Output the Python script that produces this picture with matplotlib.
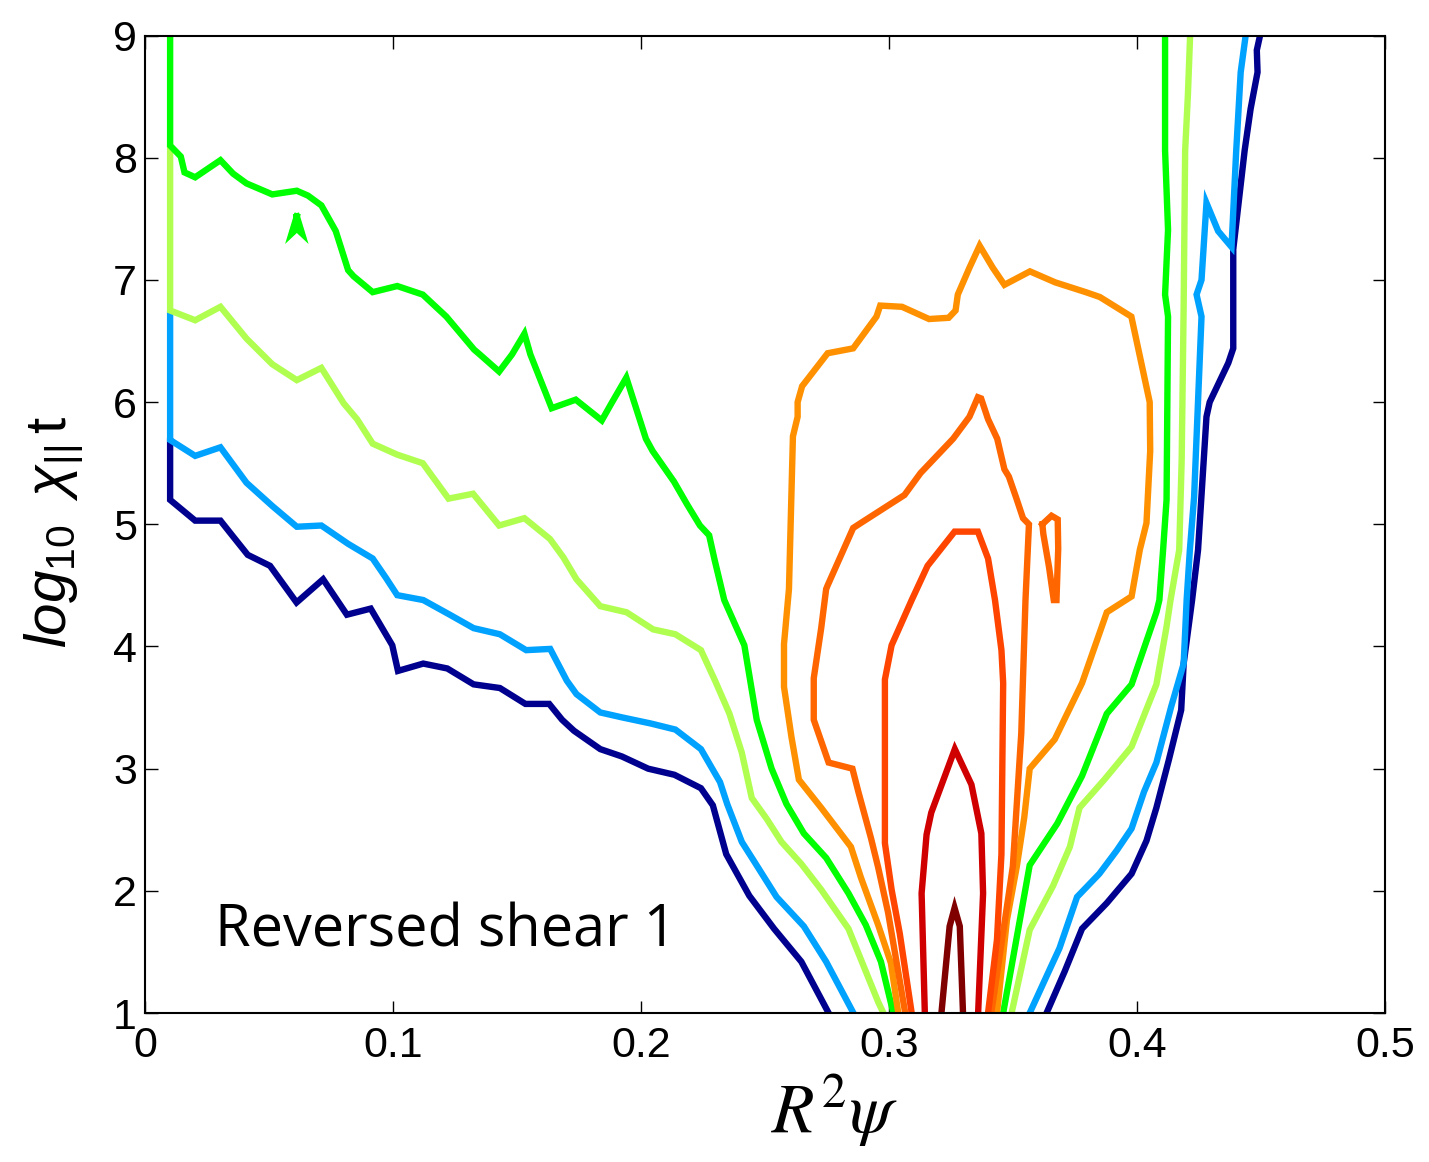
import matplotlib
matplotlib.use('Agg')
import matplotlib.pyplot as plt

# contour levels (outer -> inner) and their colours
level_colors = {
    'navy': '#00008f',
    'lightblue': '#00a2ff',
    'yellowgreen': '#b0ff50',
    'green': '#00ff00',
    'orange': '#ff9100',
    'darkorange': '#ff6600',
    'orangered': '#ff4500',
    'red': '#d00000',
    'darkred': '#800000',
}

# contour paths: (R^2 psi, log10 chi t)
navy_left_x = [0.01, 0.01, 0.0201, 0.0303, 0.035, 0.0413, 0.0503, 0.061, 0.0717, 0.0813, 0.0909,
               0.0996, 0.1019, 0.1121, 0.1218, 0.1324, 0.143, 0.1533, 0.1629, 0.1681, 0.1729,
               0.1835, 0.1922, 0.2028, 0.2134, 0.2241, 0.2289, 0.2343, 0.2436, 0.2536, 0.2646, 0.2756]
navy_left_y = [5.68, 5.20, 5.03, 5.03, 4.91, 4.75, 4.66, 4.36, 4.55, 4.26, 4.31,
               4.01, 3.80, 3.86, 3.82, 3.69, 3.66, 3.53, 3.53, 3.40, 3.31,
               3.16, 3.10, 3.00, 2.95, 2.84, 2.70, 2.30, 1.96, 1.69, 1.42, 1.0]
navy_right_x = [0.3635, 0.3708, 0.3778, 0.3878, 0.3978, 0.4038, 0.4078, 0.4128, 0.4178, 0.4188,
                0.4222, 0.4246, 0.428, 0.4293, 0.4368, 0.4388, 0.4388, 0.4434, 0.4458, 0.4486,
                0.4483, 0.4496]
navy_right_y = [1.0, 1.34, 1.69, 1.90, 2.14, 2.41, 2.68, 3.07, 3.48, 3.86,
                4.38, 4.79, 5.88, 6.00, 6.32, 6.44, 7.25, 8.06, 8.40, 8.70,
                8.88, 9.0]

lightblue_left_x = [0.01, 0.01, 0.0201, 0.0303, 0.0408, 0.0512, 0.0611, 0.071, 0.0818, 0.0917, 0.0971,
                    0.1016, 0.1121, 0.1228, 0.1324, 0.143, 0.1536, 0.1633, 0.17, 0.1739, 0.1835,
                    0.1922, 0.2038, 0.2138, 0.2241, 0.2318, 0.2347, 0.2406, 0.2456, 0.2546, 0.2656,
                    0.2746, 0.2856]
lightblue_left_y = [6.72, 5.69, 5.56, 5.63, 5.34, 5.15, 4.98, 4.99, 4.84, 4.72, 4.56,
                    4.42, 4.38, 4.26, 4.15, 4.10, 3.97, 3.98, 3.72, 3.61, 3.46,
                    3.42, 3.37, 3.32, 3.16, 2.89, 2.71, 2.40, 2.24, 1.95, 1.71,
                    1.42, 1.0]
lightblue_right_x = [0.3567, 0.3637, 0.3687, 0.3758, 0.3848, 0.3918, 0.3978, 0.4028, 0.4078, 0.4138,
                     0.4188, 0.4200, 0.4213, 0.4230, 0.426, 0.424, 0.426, 0.428, 0.4327, 0.4381,
                     0.44, 0.4418, 0.4438]
lightblue_right_y = [1.0, 1.31, 1.53, 1.95, 2.14, 2.33, 2.51, 2.81, 3.05, 3.51,
                     3.86, 4.38, 4.79, 5.22, 6.70, 6.88, 7.00, 7.63, 7.40, 7.27,
                     8.06, 8.7, 9.0]

yellowgreen_left_x = [0.01, 0.01, 0.0201, 0.0303, 0.0408, 0.0512, 0.0611, 0.071, 0.08, 0.0854, 0.0917,
                      0.1016, 0.1119, 0.1223, 0.1322, 0.1427, 0.1529, 0.1632, 0.1686, 0.1739, 0.1835,
                      0.1941, 0.2048, 0.2138, 0.2241, 0.2298, 0.2356, 0.2406, 0.2446, 0.2506, 0.2566,
                      0.2646, 0.2726, 0.2836, 0.2956, 0.2977]
yellowgreen_left_y = [8.08, 6.75, 6.67, 6.78, 6.52, 6.31, 6.18, 6.28, 5.99, 5.86, 5.66,
                      5.57, 5.50, 5.21, 5.25, 4.99, 5.05, 4.88, 4.73, 4.55, 4.33,
                      4.28, 4.14, 4.10, 3.97, 3.72, 3.45, 3.13, 2.76, 2.59, 2.40,
                      2.22, 2.01, 1.69, 1.09, 1.0]
yellowgreen_right_x = [0.3494, 0.3567, 0.3661, 0.3729, 0.3768, 0.3868, 0.3978, 0.4078, 0.4118, 0.4135,
                       0.4170, 0.4180, 0.4188, 0.4194, 0.4205, 0.4214]
yellowgreen_right_y = [1.0, 1.68, 2.04, 2.36, 2.68, 2.91, 3.18, 3.69, 4.15, 4.38,
                       4.79, 5.53, 6.79, 8.06, 8.51, 9.0]

green_left_x = [0.01, 0.01, 0.0143, 0.0158, 0.0201, 0.0303, 0.0354, 0.0408, 0.0512, 0.0611, 0.0656,
                0.071, 0.0768, 0.0818, 0.084, 0.0917, 0.1016, 0.1119, 0.1214, 0.1326, 0.1349,
                0.1427, 0.1479, 0.1529, 0.1553, 0.1639, 0.1736, 0.1841, 0.188, 0.194, 0.2019,
                0.2046, 0.2132, 0.2186, 0.2237, 0.2274, 0.2296, 0.2335, 0.2416, 0.2466, 0.2526,
                0.2586, 0.2656, 0.2746, 0.2836, 0.2906, 0.2967, 0.3017]
green_left_y = [9.0, 8.10, 8.01, 7.88, 7.84, 7.98, 7.87, 7.79, 7.70, 7.73, 7.69,
                7.61, 7.40, 7.08, 7.03, 6.90, 6.95, 6.88, 6.70, 6.43, 6.39,
                6.25, 6.39, 6.56, 6.39, 5.95, 6.02, 5.85, 5.99, 6.20, 5.70,
                5.60, 5.35, 5.16, 4.99, 4.91, 4.71, 4.38, 4.01, 3.40, 3.00,
                2.71, 2.47, 2.27, 1.98, 1.72, 1.42, 1.0]
green_right_x = [0.346, 0.3567, 0.3678, 0.3778, 0.3878, 0.3978, 0.4078, 0.4090, 0.4105, 0.4119,
                 0.4125, 0.4113, 0.4125, 0.4113, 0.4113]
green_right_y = [1.0, 2.21, 2.55, 2.94, 3.45, 3.69, 4.28, 4.38, 4.79, 5.20,
                 6.70, 6.88, 7.41, 8.06, 9.0]
green_island_x = [0.0611, 0.0632, 0.0611, 0.059, 0.0611]
green_island_y = [7.52, 7.38, 7.42, 7.38, 7.52]

orange_x = [0.3037, 0.3007, 0.2956, 0.2886, 0.2846, 0.2726, 0.2636, 0.2606, 0.2576, 0.2576, 0.2596,
            0.2612, 0.2631, 0.2631, 0.2649, 0.2752, 0.2855, 0.2949, 0.2964, 0.3052, 0.3161,
            0.324, 0.3268, 0.3277, 0.3324, 0.3365, 0.3418, 0.3465, 0.3568, 0.367, 0.3793,
            0.3850, 0.3977, 0.4051, 0.4053, 0.4038, 0.4011, 0.3978,
            0.3878, 0.3778, 0.3668, 0.3567, 0.3545, 0.3515, 0.3475, 0.3435]
orange_y = [1.0, 1.41, 1.72, 2.11, 2.36, 2.68, 2.91, 3.26, 3.67, 4.02, 4.47,
            5.72, 5.88, 6.00, 6.13, 6.40, 6.44, 6.70, 6.79, 6.78, 6.68,
            6.69, 6.75, 6.88, 7.10, 7.28, 7.10, 6.96, 7.07, 6.98, 6.90,
            6.86, 6.70, 6.00, 5.60, 5.01, 4.79, 4.41,
            4.28, 3.70, 3.24, 3.00, 2.60, 2.20, 1.76, 1.0]

darkorange_x = [0.3065, 0.2996, 0.2956, 0.2927, 0.2876, 0.2852, 0.2756, 0.2696, 0.2696, 0.2726, 0.2746,
                0.2752, 0.2855, 0.2893, 0.3062, 0.3127, 0.3258, 0.3324, 0.3358, 0.3371, 0.3399,
                0.3436, 0.3465, 0.3483, 0.3512, 0.354, 0.3564, 0.355, 0.3533, 0.3499, 0.3412]
darkorange_y = [1.0, 1.82, 2.19, 2.43, 2.81, 3.00, 3.05, 3.40, 3.74, 4.15, 4.47,
                4.50, 4.97, 5.02, 5.24, 5.42, 5.70, 5.88, 6.04, 6.03, 5.86,
                5.70, 5.45, 5.39, 5.22, 5.05, 5.00, 4.38, 3.29, 2.20, 1.0]
darkorange_island_x = [0.3618, 0.3655, 0.368, 0.3682, 0.3675, 0.3664, 0.3645, 0.3622, 0.3618]
darkorange_island_y = [5.00, 5.07, 5.04, 4.80, 4.38, 4.38, 4.65, 4.92, 5.00]

orangered_x = [0.3091, 0.3043, 0.301, 0.2983, 0.2983, 0.301, 0.3091, 0.3155, 0.3264, 0.3358, 0.3399,
               0.3427, 0.3453, 0.346, 0.3453, 0.3435, 0.3399]
orangered_y = [1.0, 1.65, 2.01, 2.39, 3.73, 4.01, 4.38, 4.66, 4.94, 4.94, 4.72,
               4.38, 3.97, 3.70, 2.30, 1.60, 1.0]

red_x = [0.3144, 0.3131, 0.3151, 0.317, 0.3265, 0.3332, 0.3372, 0.3379, 0.3359]
red_y = [1.0, 1.98, 2.46, 2.64, 3.16, 2.87, 2.47, 1.98, 1.0]

darkred_x = [0.3211, 0.3244, 0.3264, 0.3285, 0.3298]
darkred_y = [1.0, 1.71, 1.86, 1.71, 1.0]

paths = [
    (navy_left_x, navy_left_y, 'navy'),
    (navy_right_x, navy_right_y, 'navy'),
    (lightblue_left_x, lightblue_left_y, 'lightblue'),
    (lightblue_right_x, lightblue_right_y, 'lightblue'),
    (yellowgreen_left_x, yellowgreen_left_y, 'yellowgreen'),
    (yellowgreen_right_x, yellowgreen_right_y, 'yellowgreen'),
    (green_left_x, green_left_y, 'green'),
    (green_right_x, green_right_y, 'green'),
    (green_island_x, green_island_y, 'green'),
    (orange_x, orange_y, 'orange'),
    (darkorange_x, darkorange_y, 'darkorange'),
    (darkorange_island_x, darkorange_island_y, 'darkorange'),
    (orangered_x, orangered_y, 'orangered'),
    (red_x, red_y, 'red'),
    (darkred_x, darkred_y, 'darkred'),
]

x_ticks = [0, 0.1, 0.2, 0.3, 0.4, 0.5]
x_ticklabels = ['0', '0.1', '0.2', '0.3', '0.4', '0.5']
y_ticks = [1, 2, 3, 4, 5, 6, 7, 8, 9]

plt.rcParams['mathtext.fontset'] = 'custom'
plt.rcParams['mathtext.rm'] = 'Liberation Sans'
plt.rcParams['mathtext.it'] = 'Liberation Sans:italic'
plt.rcParams['mathtext.bf'] = 'Liberation Sans:bold'

fig = plt.figure(figsize=(14.29, 11.62), dpi=100)
ax = fig.add_axes([0.1017, 0.1282, 0.8675, 0.8412])

for xs, ys, name in paths:
    ax.plot(xs, ys, color=level_colors[name], lw=4.6, solid_joinstyle='miter')

ax.set_xlim(0, 0.5)
ax.set_ylim(1, 9)
ax.set_xticks(x_ticks)
ax.set_xticklabels(x_ticklabels)
ax.set_yticks(y_ticks)
ax.tick_params(direction='in', length=9, width=1.0, top=True, right=True,
               labelsize=31)
ax.tick_params(axis='x', pad=9)
ax.tick_params(axis='y', pad=6)
for lab in ax.get_xticklabels() + ax.get_yticklabels():
    lab.set_fontfamily('Liberation Sans')
for sp in ax.spines.values():
    sp.set_linewidth(1.5)

ax.text(0.556, -0.123, r'$R^2\psi$', transform=ax.transAxes, ha='center', va='baseline',
        fontsize=50, math_fontfamily='stix')
ax.text(-0.074, 0.492, r'$\mathit{log}_{10}\;\;\chi_{||}\,\mathrm{t}$', transform=ax.transAxes,
        ha='center', va='center', rotation=90, fontsize=42)
ax.text(0.028, 1.544, 'Reversed shear 1', fontsize=41.5, family='Open Sans', va='baseline')

fig.savefig('out.png', dpi=100)
